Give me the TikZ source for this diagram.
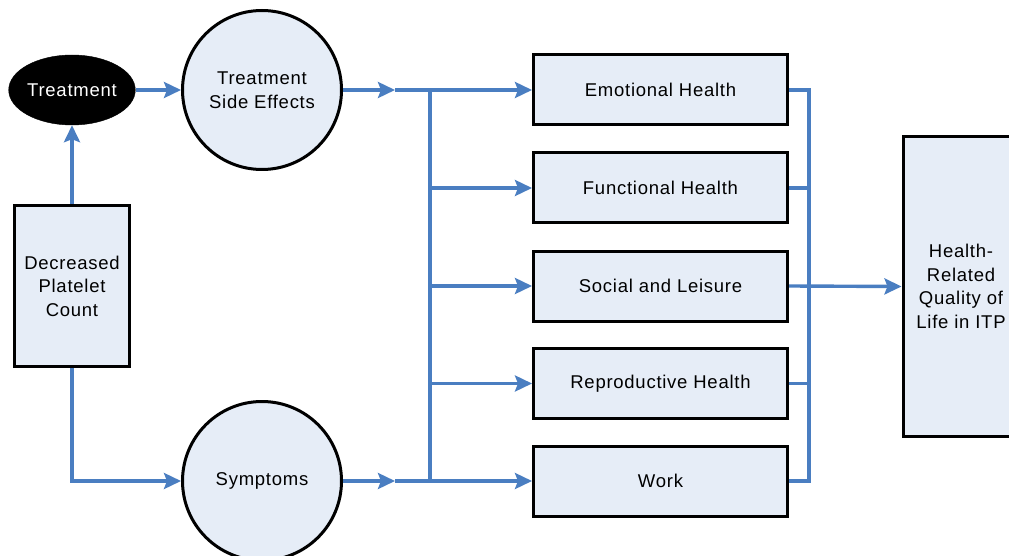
\documentclass[tikz,border=0pt]{standalone}
\usepackage{fontspec}
\setmainfont{Liberation Sans}[LetterSpace=4]
\usetikzlibrary{arrows.meta,shapes.geometric}
\definecolor{flowblue}{RGB}{74,126,193}
\definecolor{boxfill}{RGB}{230,237,247}
\begin{document}
\begin{tikzpicture}[x=1pt,y=-1pt,
  every node/.style={font=\fontsize{18.5}{23.5}\selectfont, align=center, inner sep=0pt},
  box/.style={draw=black, line width=3pt, fill=boxfill, rectangle},
  bubble/.style={draw=black, line width=3pt, fill=boxfill, circle, minimum size=159pt},
  link/.style={draw=flowblue, line width=3.4pt, line join=miter},
  flow/.style={link, -{Stealth[length=17pt,width=16pt,inset=3pt]}}
  ]
\useasboundingbox (0,0) rectangle (1009,556);
\clip (0,0) rectangle (1009,556);

% nodes
\node[ellipse, fill=black, draw=black, minimum width=126pt, minimum height=70pt, text=white] (treat) at (72,90) {Treatment};
\node[box, minimum width=115pt, minimum height=161pt] (dpc) at (72,286) {Decreased\\Platelet\\Count};
\node[bubble] (tse) at (262,90) {Treatment\\Side Effects};
\node[bubble] (sym) at (262,481) {Symptoms};

\node[box, minimum width=254pt, minimum height=70pt] (emo) at (660.5,90) {Emotional Health};
\node[box, minimum width=254pt, minimum height=70pt] (fun) at (660.5,188) {Functional Health};
\node[box, minimum width=254pt, minimum height=70pt] (soc) at (660.5,286) {Social and Leisure};
\node[box, minimum width=254pt, minimum height=70pt] (rep) at (660.5,383.5) {Reproductive Health};
\node[box, minimum width=254pt, minimum height=70pt] (wrk) at (660.5,481) {Work};

\node[box, minimum width=116pt, minimum height=300pt] (hrq) at (961,286.5) {Health-\\Related\\Quality of\\Life in ITP};

% coordinates
\coordinate (m1) at (395,90);
\coordinate (j1) at (430,90);
\coordinate (m2) at (395,481);
\coordinate (j2) at (430,481);
\coordinate (jf) at (430,188);
\coordinate (js) at (430,286);
\coordinate (jr) at (430,383.5);
\coordinate (c1) at (72,481);
\coordinate (r1) at (809,90);
\coordinate (r5) at (809,481);
\coordinate (rf) at (809,188);
\coordinate (rr) at (809,383.5);

% connectors
\draw[flow] (dpc.north) -- (treat.south);
\draw[flow] (treat.east) -- (tse.west);
\draw[flow] (dpc.south) -- (c1) -- (sym.west);

\draw[flow] (tse.east) -- (m1);
\draw[link] (m1) -- (j1);
\draw[flow] (sym.east) -- (m2);
\draw[link] (m2) -- (j2);

\draw[link] (j1) -- (j2);
\draw[flow] (j1) -- (emo.west);
\draw[flow] (jf) -- (fun.west);
\draw[flow] (js) -- (soc.west);
\draw[flow] (jr) -- (rep.west);
\draw[flow] (j2) -- (wrk.west);

\draw[link] (emo.east) -- (r1) -- (r5) -- (wrk.east);
\draw[link] (fun.east) -- (rf);
\draw[link] (rep.east) -- (rr);
\draw[flow] (soc.east) -- (hrq.west);
\end{tikzpicture}
\end{document}
